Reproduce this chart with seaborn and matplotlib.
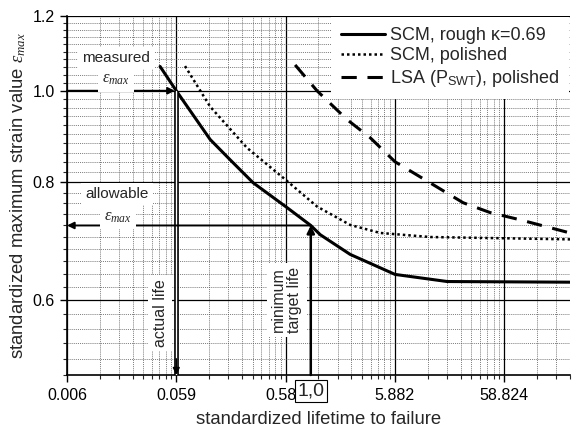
import numpy as np
import pandas as pd
import seaborn as sns
import matplotlib.pyplot as plt
from matplotlib.ticker import FixedLocator, FixedFormatter, NullFormatter
from matplotlib.transforms import blended_transform_factory

# standardized lifetime (N / N_target) and standardized strain values
scm_rough_x = [0.0418, 0.0588, 0.12, 0.183, 0.297, 0.607, 1.0, 1.22, 2.29, 5.9, 17.7, 235.3]
scm_rough_y = [1.061, 1.0, 0.888, 0.845, 0.799, 0.752, 0.72, 0.704, 0.671, 0.639, 0.628, 0.627]

scm_pol_x = [0.0707, 0.12, 0.261, 0.558, 1.142, 2.29, 4.31, 12.4, 235.3]
scm_pol_y = [1.062, 0.962, 0.870, 0.809, 0.754, 0.721, 0.707, 0.700, 0.696]

lsa_x = [0.719, 1.14, 2.15, 3.49, 5.9, 24.8, 43.8, 82.4, 235.3]
lsa_y = [1.065, 1.0, 0.932, 0.892, 0.841, 0.761, 0.743, 0.730, 0.707]

x_ticks = [0.005882, 0.05882, 0.5882, 5.882, 58.824]
x_labels = ["0.006", "0.059", "0.588", "5.882", "58.824"]
y_ticks = [0.6, 0.8, 1.0, 1.2]
y_labels = ["0.6", "0.8", "1.0", "1.2"]

x_actual, y_measured = 0.05882, 1.0
x_target, y_allow = 1.0, 0.72

sns.set_style("ticks")
plt.rcParams["font.family"] = ["Liberation Sans", "DejaVu Sans"]
plt.rcParams["mathtext.fontset"] = "custom"
plt.rcParams["mathtext.rm"] = "Liberation Sans"
plt.rcParams["mathtext.it"] = "Liberation Serif:italic"
plt.rcParams["mathtext.bf"] = "Liberation Sans:bold"

fig = plt.figure(figsize=(5.73, 4.28), dpi=100)
ax = fig.add_axes([67 / 573, 1 - 375 / 428, 503 / 573, 359 / 428])

df_rough = pd.DataFrame({"x": scm_rough_x, "y": scm_rough_y})
df_pol = pd.DataFrame({"x": scm_pol_x, "y": scm_pol_y})
df_lsa = pd.DataFrame({"x": lsa_x, "y": lsa_y})

sns.lineplot(data=df_rough, x="x", y="y", ax=ax, color="black", lw=2.2,
             sort=False, label="SCM, rough \u03ba=0.69", zorder=4)
sns.lineplot(data=df_pol, x="x", y="y", ax=ax, color="black", lw=1.8,
             linestyle=(0, (1, 1.2)), sort=False, label="SCM, polished", zorder=4)
sns.lineplot(data=df_lsa, x="x", y="y", ax=ax, color="black", lw=2.2,
             linestyle=(0, (5, 3.5)), sort=False,
             label=r"LSA (P$_\mathrm{SWT}$), polished", zorder=4)

ax.set_xscale("log")
ax.set_yscale("log")
ax.set_xlim(x_ticks[0], 235.3)
ax.set_ylim(0.5, 1.2)

ax.xaxis.set_major_locator(FixedLocator(x_ticks))
ax.xaxis.set_major_formatter(FixedFormatter(x_labels))
minor_x = [t * m for t in x_ticks for m in range(2, 10)]
ax.xaxis.set_minor_locator(FixedLocator(minor_x))
ax.xaxis.set_minor_formatter(NullFormatter())

ax.yaxis.set_major_locator(FixedLocator(y_ticks))
ax.yaxis.set_major_formatter(FixedFormatter(y_labels))
ax.yaxis.set_minor_locator(FixedLocator(np.arange(0.5, 1.2, 0.02)))
ax.yaxis.set_minor_formatter(NullFormatter())

ax.grid(which="major", color="black", lw=0.9, ls="-")
ax.grid(which="minor", color="0.3", lw=0.5, ls=(0, (1.5, 1.5)))
ax.tick_params(which="major", direction="out", length=5, width=1, labelsize=11.5,
               colors="black", pad=4)
ax.tick_params(which="minor", direction="out", length=3, width=0.8)
for s in ["top", "right"]:
    ax.spines[s].set_visible(False)
for s in ["left", "bottom"]:
    ax.spines[s].set_linewidth(1.2)
    ax.spines[s].set_color("black")

ax.set_xlabel("standardized lifetime to failure", fontsize=13.3, labelpad=6)
ax.set_ylabel(r"standardized maximum strain value $\varepsilon_{max}$",
              fontsize=13.3, labelpad=3)

# measured strain -> actual life
ax.annotate("", xy=(x_actual * 0.97, y_measured), xytext=(x_ticks[0], y_measured),
            arrowprops=dict(arrowstyle="-|>", color="black", lw=1.4,
                            mutation_scale=10, shrinkA=0, shrinkB=0), zorder=5)
ax.plot([x_actual, x_actual], [y_measured, 0.5], color="black", lw=3.4,
        zorder=5, solid_capstyle="butt")
ax.plot([x_actual, x_actual], [y_measured, 0.5], color="white", lw=1.0, zorder=5)
ax.annotate("", xy=(x_actual, 0.5), xytext=(x_actual, 0.52),
            arrowprops=dict(arrowstyle="-|>", color="black", lw=1.2,
                            mutation_scale=10, shrinkA=0, shrinkB=0), zorder=6)

# minimum target life -> allowable strain
ax.annotate("", xy=(x_target, y_allow), xytext=(x_target, 0.5),
            arrowprops=dict(arrowstyle="-|>", color="black", lw=1.8,
                            mutation_scale=11, shrinkA=0, shrinkB=0), zorder=5)
ax.annotate("", xy=(x_ticks[0], y_allow), xytext=(x_target, y_allow),
            arrowprops=dict(arrowstyle="-|>", color="black", lw=1.4,
                            mutation_scale=10, shrinkA=0, shrinkB=0), zorder=5)

box = dict(facecolor="white", edgecolor="none", pad=3)
ax.text(0.097, 0.883, "measured", transform=ax.transAxes, ha="center",
        va="center", fontsize=11, bbox=box, zorder=6)
ax.text(0.097, 0.822, r"$\varepsilon_{max}$", transform=ax.transAxes,
        ha="center", va="center", fontsize=12, bbox=box, zorder=6)
ax.text(0.099, 0.504, "allowable", transform=ax.transAxes, ha="center",
        va="center", fontsize=11, bbox=box, zorder=6)
ax.text(0.101, 0.440, r"$\varepsilon_{max}$", transform=ax.transAxes,
        ha="center", va="center", fontsize=12, bbox=box, zorder=6)
ax.text(0.185, 0.173, "actual life", transform=ax.transAxes, ha="center",
        va="center", fontsize=11.5, rotation=90, bbox=box, zorder=6)
ax.text(0.437, 0.209, "minimum\ntarget life", transform=ax.transAxes,
        ha="center", va="center", fontsize=11.5, rotation=90, bbox=box,
        linespacing=1.1, zorder=6)

trans = blended_transform_factory(ax.transData, ax.transAxes)
ax.text(x_target, -0.045, "1,0", transform=trans, ha="center", va="center",
        fontsize=14, clip_on=False, zorder=10,
        bbox=dict(facecolor="white", edgecolor="black", lw=0.8, pad=2))

leg = ax.legend(loc="upper right", bbox_to_anchor=(1.0, 1.0), fontsize=13,
                frameon=True, fancybox=False, framealpha=1, handlelength=2.4,
                handletextpad=0.28, labelspacing=0.2, borderpad=0.55,
                borderaxespad=0.05)
leg.get_frame().set_edgecolor("none")
leg.get_frame().set_facecolor("white")
leg.set_zorder(7)

fig.savefig("out.png", dpi=100)
